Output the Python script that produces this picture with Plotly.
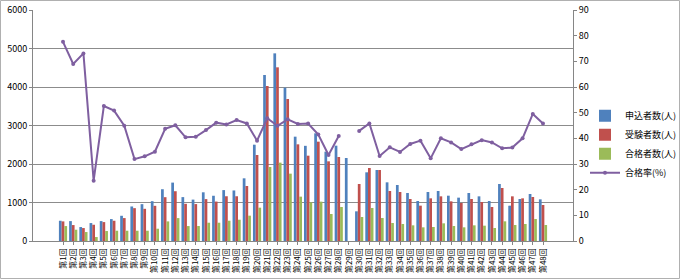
import plotly.graph_objects as go

categories = [f"第{i}回" for i in range(1, 49)]

applicants = [526, 517, 362, 466, 517, 569, 655, 897, 957, 1034,
              1345, 1517, 1140, 1075, 1265, 1175, 1322, 1313, 1628, 2502,
              4312, 4874, 3983, 2710, 2472, 2797, 2320, 2476, 2156, 771,
              1784, 1844, 1524, 1455, 1247, 1039, 1273, 1299, 1177, 1126,
              1247, 1160, 1039, 1481, 918, 1091, 1221, 1082]

examinees = [509, 414, 336, 422, 491, 526, 595, 853, 836, 914,
             1138, 1293, 966, 959, 1088, 1024, 1162, 1162, 1429, 2234,
             4026, 4511, 3688, 2511, 2216, 2580, 2069, 2182, None, 1481,
             1896, 1844, 1299, 1273, 1091, 918, 1108, 1160, 1030, 987,
             1091, 1013, 883, 1377, 1160, 1108, 1143, 935]

passers = [388, 293, 233, 103, 259, 267, 267, 267, 267, 319,
           509, 595, 388, 389, 475, 475, 527, 553, 658, 866,
           1922, 2035, 1749, 1152, 1004, 1022, 701, 883, None, 623,
           857, 597, 468, 442, 407, 355, 364, 459, 390, 355,
           407, 398, 338, 511, 416, 442, 571, 416]

pass_rate = [77.6, 69.0, 73.1, 23.5, 52.6, 50.8, 44.9, 31.9, 33.0, 34.8,
             43.7, 45.1, 40.4, 40.6, 43.2, 46.1, 45.4, 47.1, 45.8, 39.1,
             47.8, 44.9, 47.4, 45.6, 45.8, 41.5, 33.5, 40.9, None, 42.9,
             45.8, 33.1, 36.5, 34.7, 37.8, 39.1, 32.2, 40.0, 38.4, 35.8,
             37.7, 39.3, 38.4, 36.1, 36.4, 40.0, 49.5, 45.8]

series_names = ["申込者数(人)", "受験者数(人)", "合格者数(人)", "合格率(%)"]

FONT = "Noto Sans CJK JP"

fig = go.Figure()
fig.add_trace(go.Bar(x=categories, y=applicants, name=series_names[0],
                     marker=dict(color="#4F81BD", line=dict(width=0))))
fig.add_trace(go.Bar(x=categories, y=examinees, name=series_names[1],
                     marker=dict(color="#C0504D", line=dict(width=0))))
fig.add_trace(go.Bar(x=categories, y=passers, name=series_names[2],
                     marker=dict(color="#9BBB59", line=dict(width=0))))
fig.add_trace(go.Scatter(x=categories, y=pass_rate, name=series_names[3],
                         mode="lines+markers", yaxis="y2", connectgaps=False,
                         line=dict(color="#7F5FA0", width=2),
                         marker=dict(color="#7F5FA0", size=4)))

fig.update_layout(
    width=680, height=279,
    margin=dict(l=33, r=107, t=10, b=38, autoexpand=False),
    paper_bgcolor="white", plot_bgcolor="white",
    font=dict(family=FONT, size=9, color="#000000"),
    barmode="group", bargap=0.2, bargroupgap=0,
    showlegend=True,
    legend=dict(x=(585 - 33) / 540, y=0.605, xanchor="left", yanchor="top",
                font=dict(family=FONT, size=9, color="#000"),
                bgcolor="rgba(0,0,0,0)", tracegroupgap=0, itemwidth=30),
    xaxis=dict(type="category", tickmode="array", tickvals=categories,
               ticktext=categories, tickangle=-90, showgrid=False,
               showline=True, linecolor="#868686", linewidth=1,
               ticks="outside", ticklen=3, tickcolor="#868686",
               tickfont=dict(family=FONT, size=8), automargin=False),
    yaxis=dict(range=[0, 6000], dtick=1000, showgrid=True,
               gridcolor="#8C8C8C", gridwidth=1,
               showline=True, linecolor="#868686", linewidth=1,
               ticks="outside", ticklen=3, tickcolor="#868686",
               tickfont=dict(family=FONT, size=9), zeroline=False,
               automargin=False),
    yaxis2=dict(range=[0, 90], dtick=10, overlaying="y", side="right",
                showgrid=False, showline=True, linecolor="#868686", linewidth=1,
                ticks="outside", ticklen=3, tickcolor="#868686",
                tickfont=dict(family=FONT, size=9), zeroline=False,
                automargin=False),
    shapes=[dict(type="rect", xref="paper", yref="paper",
                 x0=(0.5 - 33) / 540, x1=(679.5 - 33) / 540,
                 y0=(241 - 278.5) / 231, y1=(241 - 0.5) / 231,
                 line=dict(color="#B0B0B0", width=1), layer="below")],
)

fig.write_html("out.html")
